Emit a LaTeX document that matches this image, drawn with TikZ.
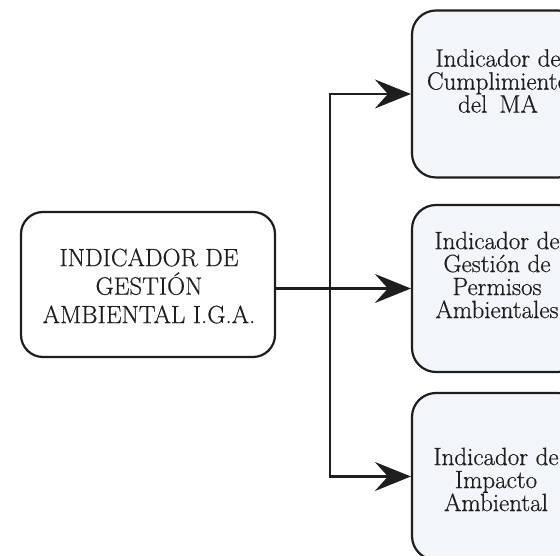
\documentclass[tikz,border=0pt]{standalone}
\usepackage{fontspec}
\newfontfamily\diagfont{Latin Modern Roman}[FakeBold=0.6]
\usetikzlibrary{arrows.meta,calc}
\definecolor{ink}{RGB}{30,30,30}
\definecolor{boxfill}{RGB}{242,246,250}
\begin{document}
\begin{tikzpicture}[x=1pt,y=1pt,
  lbox/.style={draw=ink, line width=2.2pt, rounded corners=22pt, fill=white,
    minimum width=254pt, minimum height=145pt, inner sep=0pt},
  rbox/.style={draw=ink, line width=2.2pt, rounded corners=24pt, fill=boxfill,
    minimum width=170pt, minimum height=167pt, inner sep=0pt},
  ltext/.style={align=center, font=\diagfont\fontsize{25}{28.5}\selectfont, text=ink, inner sep=0pt},
  rtext/.style={align=center, font=\diagfont\fontsize{25}{23}\selectfont, text=ink, inner sep=0pt},
  conn/.style={draw=ink, line width=2.2pt},
  tip/.style={-{Stealth[length=36pt,width=29pt,inset=13pt]}}
]
\useasboundingbox (0,0) rectangle (560,556);
\clip (0,0) rectangle (560,556);
\fill[white] (0,0) rectangle (560,556);
% boxes
\node[lbox] (a) at (148,271.5) {};
\node[rbox] (b1) at (497,462) {};
\node[rbox] (b2) at (497,267.5) {};
\node[rbox] (b3) at (497,79.5) {};
% texts
\node[ltext] (ta) at (149,270) {INDICADOR DE\\GESTIÓN\\AMBIENTAL I.G.A.};
\node[rtext] (t1) at (498,475) {Indicador de\\Cumplimiento\\del\hspace{12pt}MA};
\node[rtext] (t2) at (497,281) {Indicador de\\Gestión de\\Permisos\\Ambientales};
\node[rtext] (t3) at (496,76.5) {Indicador de\\Impacto\\Ambiental};
% connectors
\coordinate (j) at (330,267.5);
\draw[conn,tip] (j) |- (b1.west);
\draw[conn,tip] (j) |- (b3.west);
\draw[conn,tip] (a.east |- b2.west) -- (b2.west);
\end{tikzpicture}
\end{document}
